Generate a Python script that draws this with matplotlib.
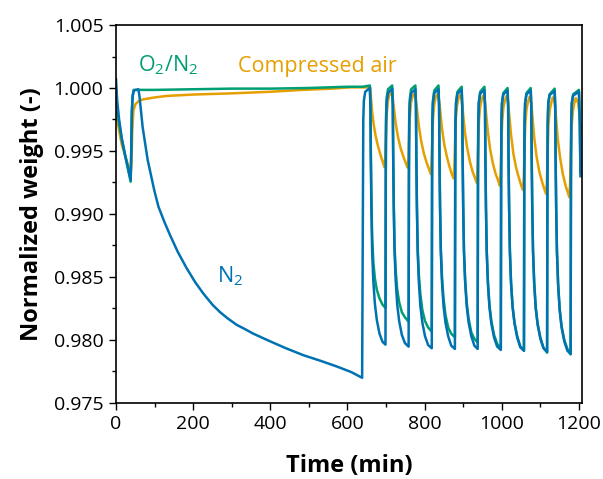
import matplotlib
matplotlib.use("Agg")
import matplotlib.pyplot as plt
from matplotlib.ticker import MultipleLocator, FormatStrFormatter

plt.rcParams['font.family'] = ['Open Sans', 'DejaVu Sans']
plt.rcParams['mathtext.fontset'] = 'custom'
plt.rcParams['mathtext.rm'] = 'Open Sans'
plt.rcParams['mathtext.it'] = 'Open Sans:italic'
plt.rcParams['mathtext.bf'] = 'Open Sans:bold'

# ---------------------------------------------------------
# N2 (blue): initial drop/long decay, then 10 switching cycles
# ---------------------------------------------------------
n2_time = [
    0, 3, 8, 15, 25, 38, 39.5, 41, 43, 46, 58, 61, 69, 82, 99, 110, 125, 140, 160, 183, 205, 226, 250, 270, 290,
    313, 335, 356, 399, 440, 485, 530, 572, 610, 638,
    640.3, 641, 642.5, 646, 658, 659.5, 660.5, 662, 664, 667, 671, 676, 683, 691, 698.5,
    699.3, 700, 701.5, 705, 716, 717.5, 718.5, 720, 722, 725, 729, 734, 741, 749, 758.5,
    759.3, 760, 761.5, 765, 776, 777.5, 778.5, 780, 782, 785, 789, 794, 801, 809, 818.5,
    819.3, 820, 821.5, 825, 836, 837.5, 838.5, 840, 842, 845, 849, 854, 861, 869, 878.5,
    879.3, 880, 881.5, 885, 896, 897.5, 898.5, 900, 902, 905, 909, 914, 921, 929, 937.5,
    938.3, 939, 940.5, 944, 955, 956.5, 957.5, 959, 961, 964, 968, 973, 980, 988, 997.5,
    998.3, 999, 1000.5, 1004, 1015, 1016.5, 1017.5, 1019, 1021, 1024, 1028, 1033, 1040, 1048, 1057.5,
    1058.3, 1059, 1060.5, 1064, 1075, 1076.5, 1077.5, 1079, 1081, 1084, 1088, 1093, 1100, 1108, 1117.5,
    1118.3, 1119, 1120.5, 1124, 1137, 1138.5, 1139.5, 1141, 1143, 1146, 1150, 1155, 1162, 1170, 1178.5,
    1179.3, 1180, 1181.5, 1185, 1200, 1202, 1204,
]
n2_weight = [
    1.0007, 0.9990, 0.9975, 0.9960, 0.9945, 0.9927, 0.9950, 0.9980, 0.9993, 0.9998, 0.9999, 0.9993, 0.9969, 0.9943,
    0.9919, 0.99058, 0.9894, 0.98833, 0.9870, 0.9857, 0.9846, 0.9837, 0.9828, 0.9822, 0.9817,
    0.9812, 0.98085, 0.9805, 0.9799, 0.97935, 0.9788, 0.97835, 0.9779, 0.97745, 0.9770,
    0.9930, 0.9975, 0.9990, 0.9997, 1.0000, 0.9985, 0.9945, 0.9905, 0.9870, 0.9847, 0.9829, 0.9816, 0.9805, 0.97985, 0.97963,
    0.9925, 0.9972, 0.9988, 0.9996, 0.99995, 0.9985, 0.9945, 0.9905, 0.9870, 0.9847, 0.9828, 0.9815, 0.9804, 0.97975, 0.97947,
    0.9925, 0.9972, 0.9988, 0.9996, 0.9999, 0.9985, 0.9945, 0.9905, 0.9870, 0.9846, 0.9827, 0.9814, 0.9803, 0.9796, 0.97934,
    0.9925, 0.9972, 0.9988, 0.9996, 0.9999, 0.9985, 0.9945, 0.9905, 0.9870, 0.9846, 0.9827, 0.9814, 0.9803, 0.97955, 0.97929,
    0.9925, 0.9972, 0.9988, 0.99955, 0.99985, 0.9985, 0.9945, 0.9905, 0.9870, 0.9846, 0.9827, 0.9814, 0.9803, 0.97955, 0.97929,
    0.9925, 0.9972, 0.9988, 0.99955, 0.99985, 0.9985, 0.9945, 0.9905, 0.9870, 0.9845, 0.9826, 0.9813, 0.9802, 0.97948, 0.97921,
    0.9925, 0.9972, 0.9988, 0.9995, 0.9998, 0.9985, 0.9945, 0.9905, 0.9870, 0.9845, 0.9826, 0.9813, 0.9802, 0.97942, 0.97915,
    0.9925, 0.9972, 0.9988, 0.9995, 0.9998, 0.9985, 0.9945, 0.9905, 0.9870, 0.9845, 0.9825, 0.9812, 0.9801, 0.97935, 0.97907,
    0.9925, 0.9972, 0.9988, 0.99945, 0.99975, 0.9985, 0.9945, 0.9905, 0.9870, 0.9844, 0.9824, 0.9810, 0.9799, 0.97915, 0.97889,
    0.9925, 0.9972, 0.9988, 0.9994, 0.9997, 0.9975, 0.9930,
]

# ---------------------------------------------------------
# O2/N2 (green)
# ---------------------------------------------------------
o2n2_time = [
    0, 3, 8, 15, 25, 38, 39.5, 41, 43, 46, 100, 200, 300, 400, 500, 600, 640,
    658, 659.5, 660.5, 662, 664, 667, 671, 676, 683, 691, 698.5,
    699.3, 700, 701.5, 705, 716, 717.5, 718.5, 720, 722, 725, 729, 734, 741, 749, 758.5,
    759.3, 760, 761.5, 765, 776, 777.5, 778.5, 780, 782, 785, 789, 794, 801, 809, 818.5,
    819.3, 820, 821.5, 825, 836, 837.5, 838.5, 840, 842, 845, 849, 854, 861, 869, 878.5,
    879.3, 880, 881.5, 885, 896, 897.5, 898.5, 900, 902, 905, 909, 914, 921, 929, 937.5,
    938.3, 939, 940.5, 944, 955, 956.5, 957.5, 959, 961, 964, 968, 973, 980, 988, 997.5,
    998.3, 999, 1000.5, 1004, 1015, 1016.5, 1017.5, 1019, 1021, 1024, 1028, 1033, 1040, 1048, 1057.5,
    1058.3, 1059, 1060.5, 1064, 1075, 1076.5, 1077.5, 1079, 1081, 1084, 1088, 1093, 1100, 1108, 1117.5,
    1118.3, 1119, 1120.5, 1124, 1137, 1138.5, 1139.5, 1141, 1143, 1146, 1150, 1155, 1162, 1170, 1178.5,
    1179.3, 1180, 1181.5, 1185, 1200, 1202, 1204,
]
o2n2_weight = [
    0.9990, 0.9982, 0.9972, 0.9959, 0.9944, 0.99256, 0.9950, 0.9982, 0.9994, 0.99985, 0.99985, 0.9999, 0.99995,
    0.99995, 1.0000, 1.0001, 1.0001,
    1.0002, 0.9988, 0.9950, 0.9912, 0.9882, 0.9862, 0.9849, 0.9840, 0.9833, 0.9828, 0.98254,
    0.9940, 0.9978, 0.9992, 0.9999, 1.0002, 0.9987, 0.9948, 0.9908, 0.9875, 0.9855, 0.9840, 0.9830, 0.9822, 0.9818, 0.98145,
    0.9935, 0.9976, 0.9991, 0.9999, 1.0002, 0.9987, 0.9947, 0.9907, 0.9873, 0.9852, 0.9836, 0.9824, 0.9815, 0.9810, 0.98066,
    0.9933, 0.9975, 0.9990, 0.9998, 1.0002, 0.9986, 0.9946, 0.9906, 0.9872, 0.9850, 0.9833, 0.9820, 0.9810, 0.9805, 0.98021,
    0.9930, 0.9974, 0.9989, 0.9997, 1.0001, 0.9986, 0.9946, 0.9906, 0.9871, 0.9848, 0.9830, 0.9817, 0.9806, 0.9801, 0.97979,
    0.9928, 0.9973, 0.9989, 0.9997, 1.0001, 0.9986, 0.9946, 0.9906, 0.9871, 0.9847, 0.9828, 0.9815, 0.9804, 0.9797, 0.97934,
    0.9927, 0.9973, 0.9988, 0.9996, 1.0000, 0.9986, 0.9946, 0.9906, 0.9871, 0.9846, 0.9827, 0.9814, 0.9803, 0.9795, 0.97915,
    0.9926, 0.9973, 0.9988, 0.9996, 1.0000, 0.9986, 0.9946, 0.9906, 0.9871, 0.9846, 0.9826, 0.9813, 0.9802, 0.9794, 0.97899,
    0.9926, 0.9972, 0.9988, 0.9995, 0.99995, 0.9986, 0.9946, 0.9906, 0.9871, 0.9845, 0.9825, 0.9811, 0.9800, 0.9793, 0.97886,
    0.9926, 0.9972, 0.9988, 0.9995, 0.99985, 0.9978, 0.9933,
]

# ---------------------------------------------------------
# Compressed air (orange)
# ---------------------------------------------------------
air_time = [
    0, 3, 8, 15, 25, 38, 40, 42, 45, 50, 60, 71, 100, 131, 200, 304, 400, 477, 560, 607, 659,
    661, 664, 668, 673, 679, 686, 692, 696,
    698, 700, 702, 705, 709, 713, 717, 720, 725, 731, 738, 745, 751, 756,
    758, 760, 762, 765, 769, 773, 777, 780, 785, 791, 798, 805, 811, 816,
    818, 820, 822, 825, 829, 833, 837, 840, 845, 851, 858, 865, 870, 875,
    877, 879, 881, 884, 888, 892, 896, 899, 904, 910, 917, 924, 930, 935,
    937, 939, 941, 944, 948, 952, 956, 959, 964, 970, 977, 984, 990, 995,
    997, 999, 1001, 1004, 1008, 1012, 1016, 1019, 1024, 1030, 1037, 1044, 1050, 1055,
    1057, 1059, 1061, 1064, 1068, 1072, 1076, 1079, 1084, 1090, 1097, 1104, 1110, 1115,
    1117, 1119, 1121, 1124, 1128, 1132, 1137, 1140, 1145, 1151, 1158, 1165, 1171, 1175,
    1177, 1179, 1181, 1184, 1188, 1192, 1198, 1201, 1206,
]
air_weight = [
    0.9985, 0.9976, 0.9966, 0.9955, 0.9945, 0.9932, 0.9940, 0.9965, 0.9982, 0.9987, 0.9990, 0.9991, 0.99925,
    0.99937, 0.99948, 0.99958, 0.9997, 0.99984, 0.99995, 1.00005, 1.00005,
    0.9992, 0.9981, 0.9971, 0.9962, 0.9954, 0.99465, 0.9941, 0.99371,
    0.9945, 0.9965, 0.9980, 0.9990, 0.9995, 0.9996, 0.9993, 0.9985, 0.9972, 0.9961, 0.9952, 0.99455, 0.99405, 0.99368,
    0.9944, 0.9964, 0.9979, 0.9989, 0.9994, 0.99955, 0.9992, 0.9984, 0.9970, 0.9958, 0.9948, 0.9941, 0.9936, 0.99317,
    0.9940, 0.9961, 0.9977, 0.9987, 0.9993, 0.9995, 0.9991, 0.9983, 0.9968, 0.9955, 0.9945, 0.9937, 0.9932, 0.99283,
    0.9937, 0.9959, 0.9976, 0.9986, 0.9992, 0.99945, 0.9991, 0.9982, 0.9966, 0.9953, 0.9942, 0.9934, 0.9929, 0.99248,
    0.9934, 0.9957, 0.9975, 0.9985, 0.9991, 0.9994, 0.9990, 0.9981, 0.9965, 0.9951, 0.9940, 0.9932, 0.9927, 0.99225,
    0.9932, 0.9955, 0.9973, 0.9984, 0.9990, 0.99935, 0.9990, 0.9980, 0.9963, 0.9948, 0.9937, 0.9929, 0.9923, 0.99190,
    0.9929, 0.9953, 0.9971, 0.9983, 0.9989, 0.9993, 0.9989, 0.9979, 0.9961, 0.9946, 0.9934, 0.9926, 0.9920, 0.99159,
    0.9926, 0.9951, 0.9970, 0.9982, 0.9988, 0.99925, 0.9989, 0.9979, 0.9960, 0.9945, 0.9932, 0.9923, 0.9917, 0.99133,
    0.9924, 0.9950, 0.9969, 0.9981, 0.9988, 0.9992, 0.9988, 0.9980, 0.9964,
]

BLUE = '#0072B2'
GREEN = '#009E73'
ORANGE = '#E69F00'

fig = plt.figure(figsize=(6.03, 4.79), dpi=100)
fig.patch.set_facecolor('white')
ax = fig.add_axes([0.1924, 0.1587, 0.7728, 0.7891])

ax.plot(air_time, air_weight, color=ORANGE, lw=1.8)
ax.plot(o2n2_time, o2n2_weight, color=GREEN, lw=1.8)
ax.plot(n2_time, n2_weight, color=BLUE, lw=1.8)

ax.set_xlim(0, 1208)
ax.set_ylim(0.975, 1.005)
ax.xaxis.set_major_locator(MultipleLocator(200))
ax.xaxis.set_minor_locator(MultipleLocator(100))
ax.yaxis.set_major_locator(MultipleLocator(0.005))
ax.yaxis.set_minor_locator(MultipleLocator(0.0025))
ax.yaxis.set_major_formatter(FormatStrFormatter('%.3f'))

ax.tick_params(which='both', direction='out', top=False, right=False, width=1.0, labelsize=14, pad=4)
ax.tick_params(which='major', length=5)
ax.tick_params(which='minor', length=3)
for sp in ax.spines.values():
    sp.set_linewidth(1.2)

ax.set_xlabel('Time (min)', fontsize=17, fontweight='bold', labelpad=15)
ax.set_ylabel('Normalized weight (-)', fontsize=17, fontweight='bold', labelpad=7)

# Series labels
ax.text(56, 1.0013, 'O$_2$/N$_2$', color=GREEN, fontsize=15.5, ha='left', va='baseline')
ax.text(315, 1.0013, 'Compressed air', color=ORANGE, fontsize=15.5, ha='left', va='baseline')
ax.text(262, 0.9846, 'N$_2$', color=BLUE, fontsize=15.5, ha='left', va='baseline')

fig.savefig('out.png', dpi=100, facecolor='white')
